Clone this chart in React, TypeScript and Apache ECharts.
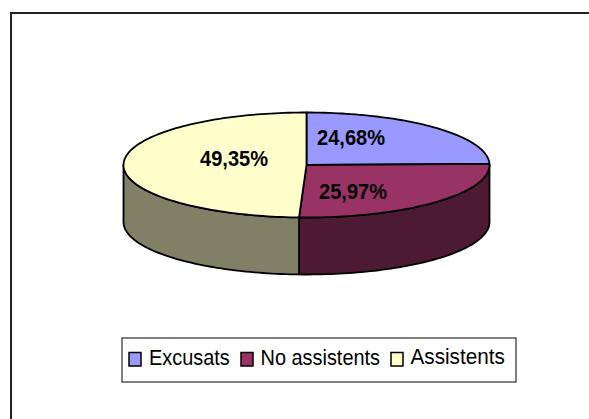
import React, { useEffect, useRef } from "react";
import * as echarts from "echarts";

const categories = ["Excusats", "No assistents", "Assistents"];
const shares = [24.68, 25.97, 49.35];
const shareLabels = ["24,68%", "25,97%", "49,35%"];
const topColors = ["#9999FF", "#993366", "#FFFFCC"];
const wallColors = ["#4D4D80", "#4D1A33", "#808066"];
const labelAnchors = [[351, 137], [353, 191], [234, 158]];
const legendSwatchX = [129, 241, 391];
const legendTextX = [149, 260.5, 410.5];
const legendTextScale = [0.94, 0.94, 0.94];
const legendTextSize = [21.2, 21.2, 22];

const CX = 306.5, CY = 165, RX = 183, RY = 52.5, DEPTH = 57;
const FONT = "'Liberation Sans', Arial, sans-serif";
const total = shares.reduce((a, b) => a + b, 0);

const point = (a: number, dy = 0) => [CX + RX * Math.sin(a), CY - RY * Math.cos(a) + dy];

function arcPoints(a0: number, a1: number, dy = 0) {
  const n = Math.max(2, Math.ceil(Math.abs(a1 - a0) * 40));
  const pts: number[][] = [];
  for (let i = 0; i <= n; i++) pts.push(point(a0 + ((a1 - a0) * i) / n, dy));
  return pts;
}

function makeRender(idx: number) {
  const before = shares.slice(0, idx).reduce((a, b) => a + b, 0);
  const a0 = (before / total) * Math.PI * 2;
  const a1 = ((before + shares[idx]) / total) * Math.PI * 2;
  return () => {
    const lo = Math.max(a0, Math.PI / 2);
    const hi = Math.min(a1, (Math.PI * 3) / 2);
    const children: any[] = [];
    const stroke = { stroke: "#000", lineWidth: 1.8, lineJoin: "round" };
    if (hi > lo) {
      const wall = [...arcPoints(lo, hi), ...arcPoints(hi, lo, DEPTH)];
      children.push({
        type: "polygon",
        shape: { points: wall },
        style: { fill: wallColors[idx], ...stroke },
      });
    }
    const top = [[CX, CY], ...arcPoints(a0, a1)];
    children.push({
      type: "polygon",
      shape: { points: top },
      style: { fill: topColors[idx], ...stroke },
    });
    children.push({
      type: "text",
      x: labelAnchors[idx][0],
      y: labelAnchors[idx][1],
      scaleX: 0.91,
      style: {
        text: shareLabels[idx],
        font: `bold 22px ${FONT}`,
        fill: "#000",
        align: "center",
        verticalAlign: "middle",
      },
    });
    return { type: "group", children };
  };
}

export default function App() {
  const ref = useRef<HTMLDivElement>(null);
  useEffect(() => {
    const chart = echarts.init(ref.current!, null, { renderer: "svg" });
    chart.setOption({
      animation: false,
      backgroundColor: "#fff",
      graphic: [
        {
          type: "polyline",
          silent: true,
          shape: { points: [[11, 419], [11, 13], [589, 13]] },
          style: { stroke: "#222", lineWidth: 2, fill: "none" },
        },
        {
          type: "rect",
          silent: true,
          shape: { x: 122, y: 338, width: 394, height: 44 },
          style: { fill: "#fff", stroke: "#555", lineWidth: 1.5 },
        },
        ...categories.flatMap((name, i) => [
          {
            type: "rect",
            silent: true,
            shape: { x: legendSwatchX[i], y: 352.5, width: 12, height: 13.5 },
            style: { fill: topColors[i], stroke: "#000", lineWidth: 1.5 },
          },
          {
            type: "text",
            silent: true,
            x: legendTextX[i],
            y: 357,
            scaleX: legendTextScale[i],
            style: {
              text: name,
              font: `${legendTextSize[i]}px ${FONT}`,
              fill: "#000",
              align: "left",
              verticalAlign: "middle",
            },
          },
        ]),
      ],
      series: categories.map((name, i) => ({
        type: "custom",
        name,
        coordinateSystem: "none",
        silent: true,
        itemStyle: { color: topColors[i] },
        data: [[shares[i]]],
        renderItem: makeRender(i),
      })),
    });
    return () => chart.dispose();
  }, []);
  return <div ref={ref} style={{ position: "fixed", left: 0, top: 0, width: 589, height: 419 }} />;
}
